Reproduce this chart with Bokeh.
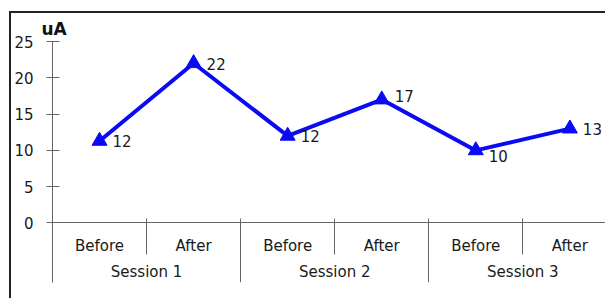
from bokeh.plotting import figure
from bokeh.models import FixedTicker, ColumnDataSource, Range1d, LinearAxis
from bokeh.embed import file_html
from bokeh.resources import INLINE
from bokeh.core.properties import value

# ---- data ----
sessions = ["Session 1", "Session 2", "Session 3"]
phases = ["Before", "After"]
values = [11.3, 22, 12, 17, 10, 13]
value_labels = ["12", "22", "12", "17", "10", "13"]
y_ticks = [0, 5, 10, 15, 20, 25]
y_unit = "uA"

# ---- styles ----
label_dy = [0, 1, 0, -4, 6, 0]
FONT = "DejaVu Sans"
BLUE = "#0a0af5"
AXIS = "#666666"
TXT = "#1a1a1a"

n_ph = len(phases)
n_cat = len(sessions) * n_ph
xs = [i + 0.5 for i in range(n_cat)]                       # category centres
phase_names = [ph for s in sessions for ph in phases]
session_centres = [n_ph * k + n_ph / 2 for k in range(len(sessions))]
inner_bounds = [n_ph * k + j for k in range(len(sessions)) for j in range(1, n_ph)]
group_bounds = [n_ph * k for k in range(1, len(sessions))]

src = ColumnDataSource(dict(x=xs, y=values, lab=value_labels, dy=label_dy))

p = figure(width=596, height=287, output_backend="svg", toolbar_location=None,
           x_range=Range1d(0, 5.9), y_range=Range1d(-8.2, 25),
           x_axis_type=None,
           min_border_left=41, min_border_right=0, min_border_top=28,
           min_border_bottom=18)
p.styles = {"border-left": "2px solid #222", "border-top": "2px solid #222",
            "margin-top": "11px", "margin-left": "9px"}
p.outline_line_color = None
p.grid.visible = False

p.title.text = y_unit
p.title.text_font = FONT
p.title.text_font_size = "17px"
p.title.text_font_style = "bold"
p.title.text_color = "#111"
p.title.offset = -11
p.title.standoff = 6

p.line("x", "y", source=src, line_color=BLUE, line_width=4)
p.scatter("x", "y", source=src, marker="triangle", size=15, color=BLUE)
p.text("x", "y", text="lab", source=src, x_offset=13, y_offset="dy",
       text_font=value(FONT), text_font_size="15px", text_color=TXT,
       text_baseline="middle", text_align="left")

ya = p.yaxis[0]
ya.ticker = FixedTicker(ticks=y_ticks)
ya.minor_tick_line_color = None
ya.major_tick_in = 7
ya.major_tick_out = 6
ya.major_label_standoff = 13
ya.axis_line_color = AXIS
ya.major_tick_line_color = AXIS
ya.major_label_text_font = FONT
ya.major_label_text_font_size = "15px"
ya.major_label_text_color = TXT


def base_axis(ticks, overrides):
    ax = LinearAxis(fixed_location=0, ticker=FixedTicker(ticks=ticks),
                    major_label_overrides=overrides)
    ax.minor_tick_line_color = None
    ax.major_label_text_font = FONT
    ax.major_label_text_font_size = "15px"
    ax.major_label_text_color = TXT
    return ax


# phase labels (Before / After) + x axis line
ax_ph = base_axis(xs, {t: n for t, n in zip(xs, phase_names)})
ax_ph.axis_line_color = AXIS
ax_ph.major_tick_line_color = None
ax_ph.major_tick_out = 0
ax_ph.major_tick_in = 0
ax_ph.major_label_standoff = 14
p.add_layout(ax_ph, "below")

# session labels
ax_se = base_axis(session_centres, {t: s for t, s in zip(session_centres, sessions)})
ax_se.axis_line_color = None
ax_se.major_tick_line_color = None
ax_se.major_tick_out = 0
ax_se.major_tick_in = 0
ax_se.major_label_standoff = 40
p.add_layout(ax_se, "below")

# separators between phases (short) and between sessions (long)
ax_in = base_axis(inner_bounds, {t: "" for t in inner_bounds})
ax_in.axis_line_color = None
ax_in.major_tick_line_color = AXIS
ax_in.major_tick_in = 4
ax_in.major_tick_out = 32
p.add_layout(ax_in, "below")

ax_gr = base_axis(group_bounds, {t: "" for t in group_bounds})
ax_gr.axis_line_color = None
ax_gr.major_tick_line_color = AXIS
ax_gr.major_tick_in = 4
ax_gr.major_tick_out = 60
p.add_layout(ax_gr, "below")

open("out.html", "w").write(file_html(p, INLINE))
